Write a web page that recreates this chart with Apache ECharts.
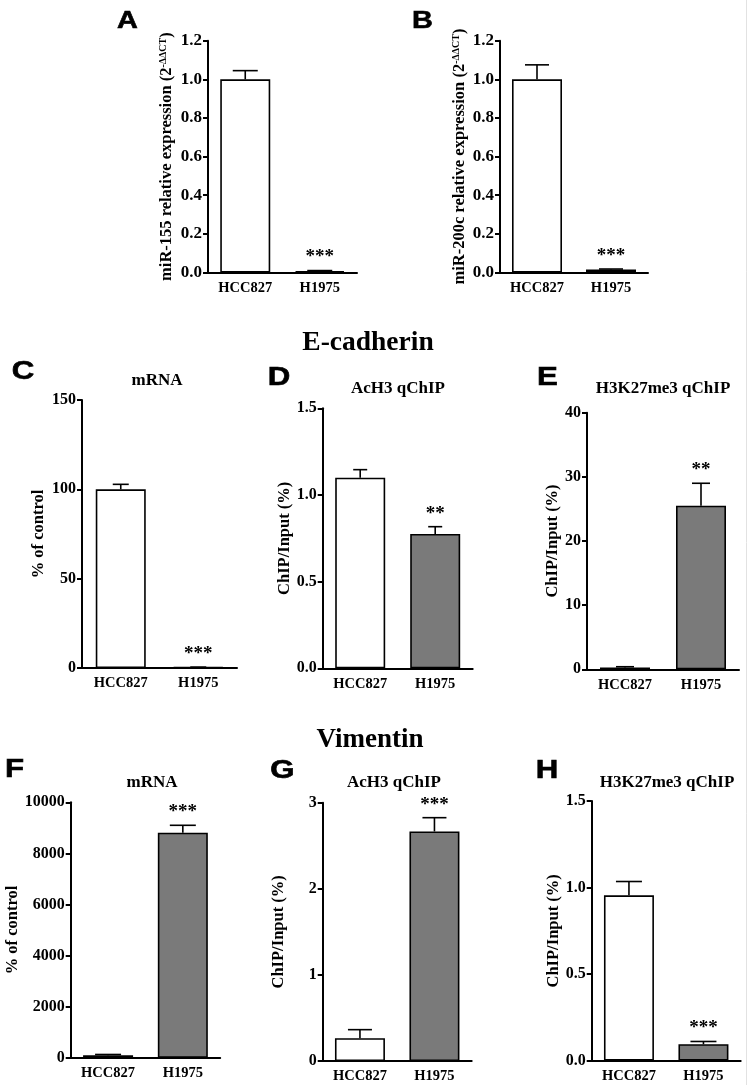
<!DOCTYPE html>
<html><head><meta charset="utf-8">
<script src="https://cdn.jsdelivr.net/npm/echarts@6/dist/echarts.min.js"></script>
<style>html,body{margin:0;padding:0;background:#fff}#c{width:750px;height:1085px}</style>
</head><body><div id="c"></div>
<script>
const categories = ['HCC827', 'H1975'];
// panel A: miR-155
const aMean = [1.0, 0.008];
const aErr = [0.045, 0.002];
const aSig = ['', '***'];
// panel B: miR-200c
const bMean = [1.0, 0.015];
const bErr = [0.075, 0.003];
const bSig = ['', '***'];
// panel C: E-cadherin mRNA
const cMean = [100, 0.4];
const cErr = [2.8, 0.1];
const cSig = ['', '***'];
// panel D: E-cadherin AcH3 qChIP
const dMean = [1.10, 0.775];
const dErr = [0.046, 0.042];
const dSig = ['', '**'];
// panel E: E-cadherin H3K27me3 qChIP
const eMean = [0.3, 25.5];
const eErr = [0.1, 3.5];
const eSig = ['', '**'];
// panel F: Vimentin mRNA
const fMean = [100, 8810];
const fErr = [30, 290];
const fSig = ['', '***'];
// panel G: Vimentin AcH3 qChIP
const gMean = [0.264, 2.666];
const gErr = [0.1, 0.16];
const gSig = ['', '***'];
// panel H: Vimentin H3K27me3 qChIP
const hMean = [0.955, 0.095];
const hErr = [0.08, 0.016];
const hSig = ['', '***'];

const SERIF = "'Liberation Serif', 'Times New Roman', serif";
const SANS = "'Liberation Sans', Arial, sans-serif";
const WHITE = '#ffffff', GRAY = '#7a7a7a';

const panels = [
  {mean: aMean, err: aErr, sig: aSig, fills: [WHITE, WHITE], max: 1.2, interval: 0.2, dec: 1,
   grid: {left: 208, top: 40.7, width: 149, height: 231.8}, lab: 17,
   name: '{n|miR-155 relative expression (2}{s|-ΔΔCT}{n|)}', nameGap: 33, nameSize: 16.5, cap: 25},
  {mean: bMean, err: bErr, sig: bSig, fills: [WHITE, WHITE], max: 1.2, interval: 0.2, dec: 1,
   grid: {left: 500, top: 40.7, width: 148, height: 231.8}, lab: 17,
   name: '{n|miR-200c relative expression (2}{s|-ΔΔCT}{n|)}', nameGap: 32, nameSize: 16.5, cap: 24},
  {mean: cMean, err: cErr, sig: cSig, fills: [WHITE, GRAY], max: 150, interval: 50, dec: 0,
   grid: {left: 82, top: 400, width: 155, height: 268}, lab: 16,
   name: '% of control', nameGap: 35, nameSize: 16.5, cap: 16},
  {mean: dMean, err: dErr, sig: dSig, fills: [WHITE, GRAY], max: 1.5, interval: 0.5, dec: 1,
   grid: {left: 322.7, top: 408.3, width: 150, height: 260}, lab: 16,
   name: 'ChIP/Input (%)', nameGap: 29, nameSize: 16.5, cap: 14},
  {mean: eMean, err: eErr, sig: eSig, fills: [WHITE, GRAY], max: 40, interval: 10, dec: 0,
   grid: {left: 587, top: 412.7, width: 152, height: 256.6}, lab: 16,
   name: 'ChIP/Input (%)', nameGap: 25, nameSize: 16.5, cap: 18},
  {mean: fMean, err: fErr, sig: fSig, fills: [WHITE, GRAY], max: 10000, interval: 2000, dec: 0,
   grid: {left: 70.7, top: 802.3, width: 149.5, height: 255.5}, lab: 16,
   name: '% of control', nameGap: 43, nameSize: 16.5, cap: 26},
  {mean: gMean, err: gErr, sig: gSig, fills: [WHITE, GRAY], max: 3, interval: 1, dec: 0,
   grid: {left: 322.7, top: 802.7, width: 149, height: 258.3}, lab: 16,
   name: 'ChIP/Input (%)', nameGap: 35, nameSize: 16.5, cap: 24},
  {mean: hMean, err: hErr, sig: hSig, fills: [WHITE, GRAY], max: 1.5, interval: 0.5, dec: 1,
   grid: {left: 591.7, top: 801, width: 149, height: 259.7}, lab: 16,
   name: 'ChIP/Input (%)', nameGap: 29, nameSize: 16.5, cap: 26}
];

const grids = [], xAxes = [], yAxes = [], series = [];
panels.forEach((p, k) => {
  grids.push(Object.assign({containLabel: false}, p.grid));
  xAxes.push({
    type: 'category', gridIndex: k, data: categories,
    axisLine: {lineStyle: {color: '#000', width: 2}},
    axisTick: {alignWithLabel: true, length: 5, lineStyle: {color: '#000', width: 2}},
    axisLabel: {color: '#000', fontFamily: SERIF, fontWeight: 'bold', fontSize: 14.5, margin: 8}
  });
  yAxes.push({
    type: 'value', gridIndex: k, min: 0, max: p.max, interval: p.interval,
    axisLine: {show: true, lineStyle: {color: '#000', width: 2}},
    axisTick: {show: true, length: 5, lineStyle: {color: '#000', width: 2}},
    splitLine: {show: false},
    axisLabel: {color: '#000', fontFamily: SERIF, fontWeight: 'bold', fontSize: p.lab, margin: 6,
      formatter: v => v.toFixed(p.dec)},
    name: p.name, nameLocation: 'middle', nameGap: p.nameGap,
    nameTextStyle: {color: '#000', fontFamily: SERIF, fontWeight: 'bold', fontSize: p.nameSize,
      rich: {n: {fontFamily: SERIF, fontWeight: 'bold', fontSize: p.nameSize, color: '#000'},
             s: {fontFamily: SERIF, fontWeight: 'bold', fontSize: 10, color: '#000', verticalAlign: 'top', padding: [0, 0, 6, 0]}}}
  });
  series.push({
    type: 'bar', xAxisIndex: k, yAxisIndex: k, barWidth: 50,
    data: p.mean.map((v, i) => ({value: v, itemStyle: {color: p.fills[i]}})),
    itemStyle: {borderColor: '#000', borderWidth: 1.6},
    silent: true, animation: false
  });
  series.push({
    type: 'custom', xAxisIndex: k, yAxisIndex: k, z: 5, animation: false, silent: true,
    data: p.mean.map((v, i) => [i, v, p.err[i]]),
    renderItem: function (params, api) {
      const i = api.value(0), m = api.value(1), e = api.value(2);
      const base = api.coord([i, m]);
      const top = api.coord([i, m + e]);
      const half = p.cap / 2;
      const children = [
        {type: 'line', shape: {x1: base[0], y1: base[1], x2: top[0], y2: top[1]}, style: {stroke: '#000', lineWidth: 1.6}},
        {type: 'line', shape: {x1: top[0] - half, y1: top[1], x2: top[0] + half, y2: top[1]}, style: {stroke: '#000', lineWidth: 1.6}}
      ];
      const s = p.sig[params.dataIndex];
      if (s) {
        children.push({type: 'text', style: {text: s, x: top[0], y: top[1] - 13, align: 'center', verticalAlign: 'middle',
          fontFamily: SERIF, fontWeight: 'bold', fontSize: 19, fill: '#000'}});
      }
      return {type: 'group', children: children};
    }
  });
});

function letter(t, x, y, size) {
  return {type: 'text', x: x, y: y, scaleX: 1.2, silent: true,
    style: {text: t, align: 'center', verticalAlign: 'middle', fontFamily: SANS, fontWeight: 'bold', fontSize: size, fill: '#000',
      stroke: '#000', lineWidth: 0.6}};
}
function title(t, x, y, size) {
  return {type: 'text', x: x, y: y, silent: true,
    style: {text: t, align: 'center', verticalAlign: 'middle', fontFamily: SERIF, fontWeight: 'bold', fontSize: size, fill: '#000'}};
}

const graphic = [
  letter('A', 127.5, 21.5, 24), letter('B', 422.5, 21.5, 24),
  letter('C', 23, 371.5, 26), letter('D', 279, 377.5, 26), letter('E', 547.5, 377.5, 26),
  letter('F', 14.5, 770, 26), letter('G', 282.5, 771, 26), letter('H', 547, 771, 26),
  title('E-cadherin', 368, 343, 27.5), title('Vimentin', 370, 740, 27),
  title('mRNA', 157, 381, 17), title('AcH3 qChIP', 398, 389, 17), title('H3K27me3 qChIP', 663, 389, 17),
  title('mRNA', 152, 782.5, 17), title('AcH3 qChIP', 394, 783, 17), title('H3K27me3 qChIP', 667, 783, 17),
  {type: 'line', silent: true, shape: {x1: 746.5, y1: 0, x2: 746.5, y2: 1085}, style: {stroke: '#e2e2e2', lineWidth: 1}}
];

const chart = echarts.init(document.getElementById('c'), null, {renderer: 'canvas'});
chart.setOption({
  backgroundColor: '#fff', animation: false,
  grid: grids, xAxis: xAxes, yAxis: yAxes, series: series, graphic: graphic
});
</script></body></html>
